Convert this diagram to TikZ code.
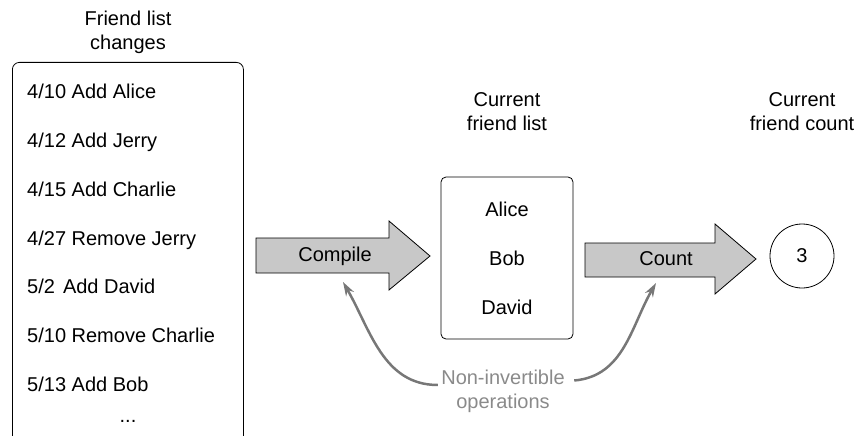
\documentclass[tikz,border=0pt]{standalone}
\usepackage{fontspec}
\setmainfont{Liberation Sans}
\usetikzlibrary{arrows.meta}

\definecolor{arrowfill}{HTML}{C8C8C8}
\definecolor{notegray}{HTML}{777777}
\definecolor{notetext}{HTML}{8A8A8A}

\begin{document}
\begin{tikzpicture}[x=1pt, y=1pt,
	  every node/.style = {font=\fontsize{20}{24}\selectfont},
	  title/.style = {align=center},
	  listbox/.style = {draw, line width=0.8pt, rounded corners=7pt},
	  entry/.style = {anchor=base west, inner sep=0pt},
	  bigarrow/.style = {draw, line width=0.8pt, fill=arrowfill},
	  notearrow/.style = {draw=notegray, line width=2.5pt, -{Stealth[length=14pt, width=9pt]}}
	]
	\useasboundingbox (0,0) rectangle (857,-436);

	% friend list changes
	\node[title] (changestitle) at (128,-32) {Friend list\\changes};
	\node[listbox, anchor=north west, minimum width=231pt, minimum height=420pt] (changes) at (12,-62) {};
	\node[entry] (e1) at (27,-98.7) {4/10 Add Alice};
	\node[entry] (e2) at (27,-147.5) {4/12 Add Jerry};
	\node[entry] (e3) at (27,-196.3) {4/15 Add Charlie};
	\node[entry] (e4) at (27,-245.1) {4/27 Remove Jerry};
	\node[entry] (e5) at (27,-293.9) {5/2\hspace{8pt}Add David};
	\node[entry] (e6) at (27,-342.7) {5/10 Remove Charlie};
	\node[entry] (e7) at (27,-391.5) {5/13 Add Bob};
	\node[anchor=base, inner sep=0pt] (more) at (128,-422) {...};

	% compile
	\draw[bigarrow] (256,-238) -- (389,-238) -- (389,-221) -- (430,-256) -- (389,-290) -- (389,-273) -- (256,-273) -- cycle;
	\node (compile) at (335,-256) {Compile};
	\coordinate (compiletip) at (343,-282);

	% current friend list
	\node[title] (currenttitle) at (507,-111.5) {Current\\friend list};
	\node[listbox, rounded corners=5pt, align=center, minimum width=132pt, minimum height=162pt,
	      font=\fontsize{20}{49}\selectfont] (current) at (507,-258) {Alice\\Bob\\David};

	% count
	\draw[bigarrow] (585,-243) -- (715,-243) -- (715,-224) -- (756,-259) -- (715,-294) -- (715,-277) -- (585,-277) -- cycle;
	\node (count) at (666,-259) {Count};
	\coordinate (counttip) at (656,-283);

	% current friend count
	\node[title] (totaltitle) at (802,-111.5) {Current\\friend count};
	\node[draw, circle, line width=0.8pt, minimum size=64pt, inner sep=0pt] (total) at (802,-256) {3};

	% non-invertible
	\node[title, text=notetext] (noninv) at (503,-391.5) {Non-invertible\\operations};
	\draw[notearrow] ([yshift=6.5pt]noninv.west) to[out=180, in=-60] (compiletip);
	\draw[notearrow] ([shift={(6pt,11pt)}]noninv.east) to[out=5, in=-120] (counttip);
\end{tikzpicture}
\end{document}
